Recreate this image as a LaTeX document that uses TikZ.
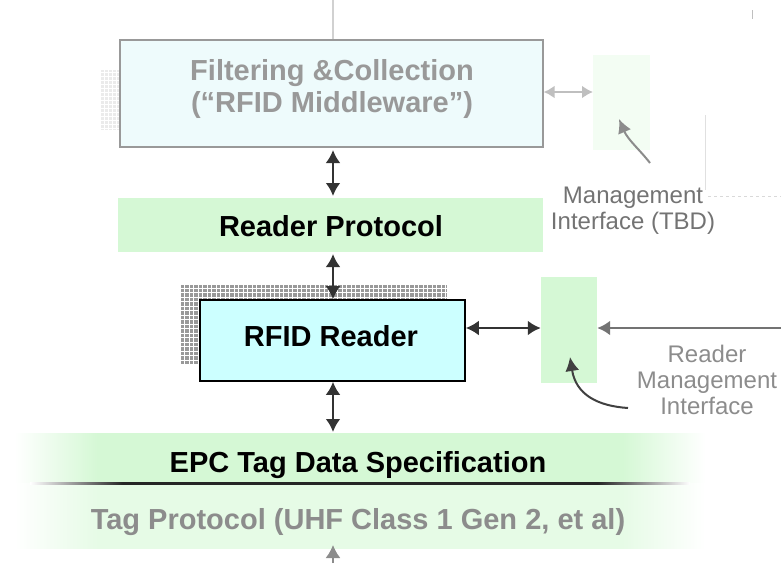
\documentclass[tikz,border=0pt]{standalone}
\usepackage{fontspec}
\setmainfont{Liberation Sans}
\usetikzlibrary{arrows.meta}
\definecolor{cyanbox}{HTML}{CCFFFF}
\definecolor{palecyan}{HTML}{EEFBFC}
\definecolor{lgreen}{HTML}{D5F8D5}
\definecolor{lgreenB}{HTML}{E6FBE6}
\definecolor{fgreen}{HTML}{F3FDF3}
\pgfdeclarehorizontalshading{bandA}{100bp}{color(0bp)=(white); color(25bp)=(white); color(31bp)=(lgreen); color(69bp)=(lgreen); color(75bp)=(white); color(100bp)=(white)}
\pgfdeclarehorizontalshading{bandB}{100bp}{color(0bp)=(white); color(25bp)=(white); color(31bp)=(lgreenB); color(69bp)=(lgreenB); color(75bp)=(white); color(100bp)=(white)}
\pgfdeclarehorizontalshading{lineshade}{100bp}{color(0bp)=(white); color(25bp)=(white); color(32bp)=(black!85); color(68bp)=(black!85); color(75bp)=(white); color(100bp)=(white)}
\tikzset{
  big/.style={font=\bfseries\fontsize{29}{32}\selectfont},
  small/.style={font=\fontsize{24}{26}\selectfont, align=center},
  dbl/.style={{Latex[length=13pt,width=15pt]}-{Latex[length=13pt,width=15pt]}, line width=2.6pt, draw=black!80},
  one/.style={-{Latex[length=13pt,width=15pt]}, line width=2.4pt},
  curv/.style={-{Latex[length=14pt,width=14pt]}, line width=2pt},
}
\begin{document}
\begin{tikzpicture}[x=1pt,y=-1pt]
\useasboundingbox (0,0) rectangle (781,563);
% faint top marks
\draw[black!18, line width=1.2pt] (333,0) -- (333,40);
\draw[black!25, line width=1pt] (752,10) -- (752,19);
% faint grid behind middleware
\fill[black!8] (100,70) rectangle (121,130);
\draw[white, line width=0.5pt, step=4pt] (100,70) grid (121,130);
% middleware box
\node[draw=black!40, line width=1.2pt, fill=palecyan, minimum width=423pt, minimum height=107pt, inner sep=0pt] (mw) at (331.5,93.5) {};
\node[big, text=black!40, align=center] (mwt) at (332,89) {Filtering \&Collection\\[0pt](\textquotedblleft RFID Middleware\textquotedblright)};
% faint management box (top)
\node[fill=fgreen, minimum width=57pt, minimum height=95pt, inner sep=0pt] (mg) at (621.5,102.5) {};
\draw[{Latex[length=11pt,width=13pt]}-{Latex[length=11pt,width=13pt]}, line width=2.4pt, draw=black!25] (mw.east |- 0,92) -- (593,92) coordinate (mge);
\coordinate (c1) at (650,163);
\coordinate (c1e) at (619,119);
\draw[curv, draw=black!45] (c1) .. controls (640,150) and (628,140) .. (c1e);
\node[small, text=black!55, align=left] (mgt) at (633,211) {\hspace*{12pt}Management\\Interface (TBD)};
\draw[black!12, line width=1pt] (705,115) -- (705,190);
\draw[black!15, line width=1pt, dashed] (708,196) -- (781,196);
% reader protocol band
\node[fill=lgreen, minimum width=425pt, minimum height=54pt, inner sep=0pt] (rp) at (330.5,225) {};
\node[big, text=black] (rpt) at (331,226) {Reader Protocol};
\draw[dbl] (333,150) -- (333,196);
% grid behind reader
\fill[black!40] (180,285) rectangle (447,365);
\draw[white, line width=0.6pt, step=4.5pt] (180,285) grid (447,365);
% RFID reader
\node[draw=black, line width=1.6pt, fill=cyanbox, minimum width=265pt, minimum height=81pt, inner sep=0pt] (rd) at (332.5,340.5) {};
\node[big, text=black] (rdt) at (331,336) {RFID Reader};
\draw[dbl] (333,254) -- (rd.north -| 333,0);
% reader management box
\node[fill=lgreen, minimum width=56pt, minimum height=106pt, inner sep=0pt] (rm) at (569,330) {};
\draw[dbl] (rd.east |- 0,328) -- (rm.west |- 0,328);
\coordinate (rin) at (781,328);
\draw[one, draw=black!55] (rin) -- (rm.east |- 0,328);
\coordinate (c2) at (628,408);
\coordinate (c2e) at (570,357);
\draw[curv, draw=black!75] (c2) .. controls (598,406) and (576,395) .. (c2e);
\node[small, text=black!45] (rmt) at (707,380) {Reader\\Management\\Interface};
% bottom band
\shade[shading=bandA] (15,433) rectangle (705,483);
\shade[shading=bandB] (15,483) rectangle (705,548);
\shade[shading=lineshade] (30,482) rectangle (690,484.5);
\node[big, text=black] (epc) at (358,465) {EPC Tag Data Specification};
\node[big, text=black!45] (tp) at (358,522) {Tag Protocol (UHF Class 1 Gen 2, et al)};
\draw[dbl] (rd.south -| 333,0) -- (333,432);
\coordinate (bin) at (333,563);
\draw[one, draw=black!45, line width=1.8pt] (bin) -- (333,545);
\end{tikzpicture}
\end{document}
